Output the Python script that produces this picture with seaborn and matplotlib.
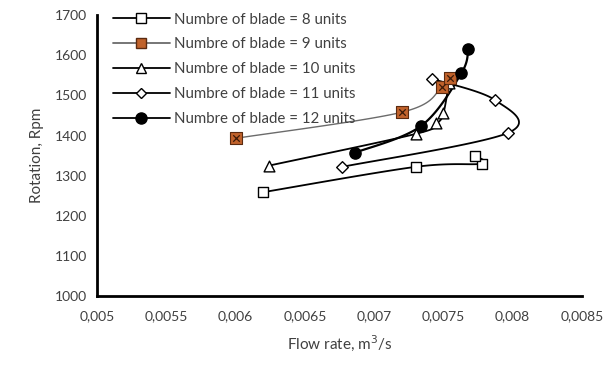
import numpy as np
import pandas as pd
import matplotlib
matplotlib.use("Agg")
import matplotlib.pyplot as plt
import seaborn as sns
from matplotlib.lines import Line2D
from matplotlib.ticker import FuncFormatter, MultipleLocator

# ---- data ----
labels = ["Numbre of blade = 8 units", "Numbre of blade = 9 units",
          "Numbre of blade = 10 units", "Numbre of blade = 11 units",
          "Numbre of blade = 12 units"]
flow_8 = [0.00620, 0.00730, 0.00778, 0.00773]
rpm_8 = [1259, 1322, 1330, 1349]
flow_9 = [0.00600, 0.00720, 0.00749, 0.00755]
rpm_9 = [1393, 1458, 1520, 1543]
flow_10 = [0.00624, 0.00730, 0.00745, 0.00750, 0.00754]
rpm_10 = [1325, 1404, 1430, 1455, 1530]
flow_11 = [0.00742, 0.00787, 0.00797, 0.00677]
rpm_11 = [1541, 1489, 1407, 1322]
flow_12 = [0.00686, 0.00734, 0.00763, 0.00768]
rpm_12 = [1357, 1424, 1555, 1615]
x_ticks = [0.005, 0.0055, 0.006, 0.0065, 0.007, 0.0075, 0.008, 0.0085]

series = [(flow_8, rpm_8), (flow_9, rpm_9), (flow_10, rpm_10),
          (flow_11, rpm_11), (flow_12, rpm_12)]

rows = []
for lab, (xs, ys) in zip(labels, series):
    for i, (x, y) in enumerate(zip(xs, ys)):
        rows.append({"series": lab, "flow": x, "rpm": y, "order": i})
df = pd.DataFrame(rows)

sns.set_theme(style="white")
plt.rcParams['font.family'] = ['Lato', 'DejaVu Sans']

fig = plt.figure(figsize=(6.15, 3.67), dpi=100)
ax = fig.add_axes([0.158, 0.193, 0.788, 0.766])
XMIN, XMAX, YMIN, YMAX = 0.005, 0.0085, 1000, 1700
ax.set_xlim(XMIN, XMAX)
ax.set_ylim(YMIN, YMAX)


def smooth(xs, ys, n=30):
    # Catmull-Rom spline in normalised axes space (render-only smoothing)
    W, H = 485.0, 281.0
    px = (np.asarray(xs) - XMIN) / (XMAX - XMIN) * W
    py = (np.asarray(ys) - YMIN) / (YMAX - YMIN) * H
    P = np.column_stack([px, py])
    P = np.vstack([P[0], P, P[-1]])
    out = []
    for i in range(1, len(P) - 2):
        p0, p1, p2, p3 = P[i - 1], P[i], P[i + 1], P[i + 2]
        t = np.linspace(0, 1, n)[:, None]
        seg = 0.5 * ((2 * p1) + (-p0 + p2) * t + (2 * p0 - 5 * p1 + 4 * p2 - p3) * t ** 2
                     + (-p0 + 3 * p1 - 3 * p2 + p3) * t ** 3)
        out.append(seg)
    S = np.vstack(out)
    return S[:, 0] / W * (XMAX - XMIN) + XMIN, S[:, 1] / H * (YMAX - YMIN) + YMIN


line_colors = ["black", "#6b6b6b", "black", "black", "black"]
line_widths = [1.3, 1.0, 1.3, 1.3, 1.6]
for lab, (xs, ys), c, lw in zip(labels, series, line_colors, line_widths):
    sx, sy = smooth(xs, ys)
    ax.plot(sx, sy, color=c, lw=lw, zorder=2)

orange = "#c0622b"
mstyles = {
    labels[0]: dict(marker="s", s=60, facecolor="white", edgecolor="black", linewidth=1.0),
    labels[1]: dict(marker="s", s=70, facecolor=orange, edgecolor="#5a2a10", linewidth=0.8),
    labels[2]: dict(marker="^", s=60, facecolor="white", edgecolor="black", linewidth=1.0),
    labels[3]: dict(marker="D", s=35, facecolor="white", edgecolor="black", linewidth=1.0),
    labels[4]: dict(marker="o", s=65, facecolor="black", edgecolor="black", linewidth=1.0),
}
draw_order = [labels[2], labels[0], labels[3], labels[1], labels[4]]
for lab in draw_order:
    sub = df[df["series"] == lab]
    sns.scatterplot(data=sub, x="flow", y="rpm", ax=ax, zorder=3, legend=False,
                    **mstyles[lab])
    if lab == labels[1]:
        sns.scatterplot(data=sub, x="flow", y="rpm", ax=ax, zorder=4, legend=False,
                        marker="x", s=22, color="#3a1a08", linewidth=0.9)

# axes styling
for sp in ["top", "right"]:
    ax.spines[sp].set_visible(False)
for sp in ["left", "bottom"]:
    ax.spines[sp].set_color("black")
    ax.spines[sp].set_linewidth(2.0)
ax.set_xticks(x_ticks)
ax.yaxis.set_major_locator(MultipleLocator(100))
ax.xaxis.set_major_formatter(FuncFormatter(lambda v, p: ("%g" % v).replace(".", ",")))
ax.tick_params(axis="both", direction="out", length=4, width=1.0, color="black",
               labelsize=10, labelcolor="#404040", pad=3)
ax.tick_params(axis="x", pad=6)
ax.set_xlabel("Flow rate, m$^3$/s", fontsize=11, color="#404040", labelpad=8)
ax.set_ylabel("Rotation, Rpm", fontsize=11, color="#404040", labelpad=8)

# legend
handles = []
for lab, c in zip(labels, line_colors):
    st = mstyles[lab]
    size = {"s": 7.5, "^": 7.5, "D": 5.5, "o": 8}[st["marker"]]
    handles.append(Line2D([0], [0], color=c, lw=1.3, marker=st["marker"], markersize=size,
                          markerfacecolor=st["facecolor"], markeredgecolor=st["edgecolor"],
                          markeredgewidth=1.0))
leg = ax.legend(handles=handles, labels=labels, loc="upper left",
                bbox_to_anchor=(0.02, 1.03), frameon=False, fontsize=10.8,
                handlelength=3.8, handletextpad=0.25, labelspacing=0.72,
                borderaxespad=0.0)
for t in leg.get_texts():
    t.set_color("#404040")

fig.savefig("out.png", dpi=100)
